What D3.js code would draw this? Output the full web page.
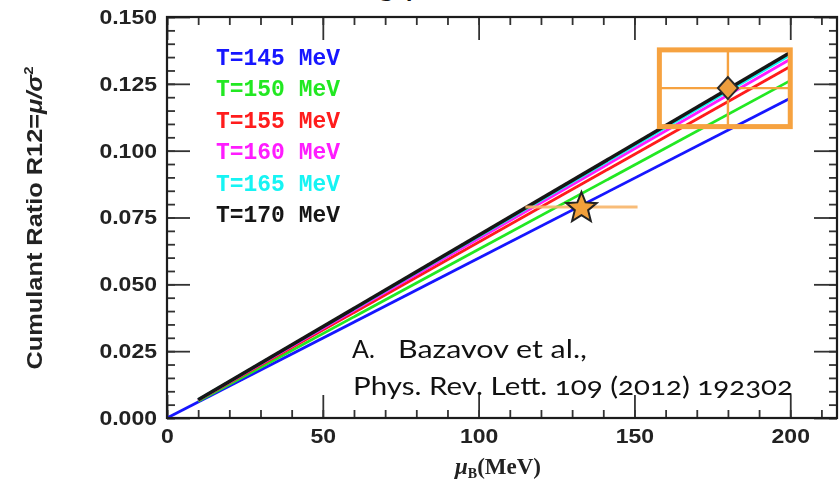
<!DOCTYPE html>
<html><head><meta charset="utf-8">
<script src="https://cdn.jsdelivr.net/npm/d3@7"></script>
<style>
html,body{margin:0;padding:0;background:#fff;}
svg{display:block;}
</style></head><body>
<svg id="chart" width="840" height="484"></svg>
<script>
// Lattice QCD predictions for R12 = mu/sigma^2 versus baryon chemical potential
const temperatures = [145, 150, 155, 160, 165, 170];
const legendLabels = ["T=145 MeV", "T=150 MeV", "T=155 MeV", "T=160 MeV", "T=165 MeV", "T=170 MeV"];
const muStart = [0, 10, 10, 10, 10, 10];
const r12Start = [0.0000, 0.0063, 0.0066, 0.0067, 0.0068, 0.0068];
const muEnd = [200, 200, 200, 200, 200, 200];
const r12End = [0.1196, 0.1262, 0.1315, 0.1342, 0.1358, 0.1367];
const lineColors = ["#1414ff", "#22e822", "#ff1a1a", "#ff1aff", "#14f4f4", "#151515"];

// Measured point (star) with horizontal error bar
const starMu = 133, starR12 = 0.0789, starMuErr = 18;
// Extracted point (diamond) with its uncertainty box
const boxMu = 180, boxR12 = 0.1234;
const boxMuRange = [158, 200];
const boxR12Range = [0.1090, 0.1377];

// Axis ticks
const xMajorTicks = [0, 50, 100, 150, 200];
const xTickLabels = ["0", "50", "100", "150", "200"];
const xMinorTicks = [0, 10, 20, 30, 40, 50, 60, 70, 80, 90, 100, 110, 120, 130, 140, 150, 160, 170, 180, 190, 200, 210];
const yMajorTicks = [0, 0.025, 0.05, 0.075, 0.1, 0.125, 0.15];
const yTickLabels = ["0.000", "0.025", "0.050", "0.075", "0.100", "0.125", "0.150"];
const yMinorTicks = d3.range(0, 0.1501, 0.005);

const svg = d3.select("#chart");
const plot = {left: 167, right: 837, top: 17, bottom: 418};
const x = d3.scaleLinear().domain([0, 215]).range([plot.left, plot.right]);
const y = d3.scaleLinear().domain([0, 0.15]).range([plot.bottom, plot.top]);

const defs = svg.append("defs");
defs.append("filter").attr("id", "soft").attr("x", "-5%").attr("y", "-5%").attr("width", "110%").attr("height", "110%")
  .append("feGaussianBlur").attr("stdDeviation", 0.55);

// Fragment of the slide title above the plot
const titleFont = "Lato, 'Open Sans', sans-serif";
svg.append("text")
  .attr("x", 377).attr("y", -5)
  .attr("font-family", titleFont)
  .attr("font-size", 36).attr("fill", "#111")
  .text("g");
svg.append("text")
  .attr("x", 405).attr("y", -5)
  .attr("font-family", titleFont)
  .attr("font-size", 36).attr("fill", "#111")
  .text("p");

const g = svg.append("g").attr("filter", "url(#soft)");

const tickColor = "#333";
function styleAxis(sel) {
  sel.select(".domain").remove();
  sel.selectAll(".tick line").attr("stroke", tickColor).attr("stroke-width", 1.8);
  sel.selectAll(".tick text")
    .attr("font-family", "'Liberation Sans', Arial, sans-serif")
    .attr("font-weight", "bold").attr("font-size", 20).attr("fill", "#222");
}

// Minor ticks on all four sides
g.append("g").attr("transform", `translate(0,${plot.bottom})`)
  .call(d3.axisBottom(x).tickValues(xMinorTicks).tickSize(-8).tickFormat("")).call(styleAxis);
g.append("g").attr("transform", `translate(0,${plot.top})`)
  .call(d3.axisTop(x).tickValues(xMinorTicks).tickSize(-8).tickFormat("")).call(styleAxis);
g.append("g").attr("transform", `translate(${plot.left},0)`)
  .call(d3.axisLeft(y).tickValues(yMinorTicks).tickSize(-8).tickFormat("")).call(styleAxis);
g.append("g").attr("transform", `translate(${plot.right},0)`)
  .call(d3.axisRight(y).tickValues(yMinorTicks).tickSize(-8).tickFormat("")).call(styleAxis);

// Major ticks
const xAxisG = g.append("g").attr("transform", `translate(0,${plot.bottom})`)
  .call(d3.axisBottom(x).tickValues(xMajorTicks).tickSize(-23).tickPadding(11)
    .tickFormat((d, i) => xTickLabels[i])).call(styleAxis);
g.append("g").attr("transform", `translate(0,${plot.top})`)
  .call(d3.axisTop(x).tickValues(xMajorTicks).tickSize(-23).tickFormat("")).call(styleAxis);
const yAxisG = g.append("g").attr("transform", `translate(${plot.left},0)`)
  .call(d3.axisLeft(y).tickValues(yMajorTicks).tickSize(-23).tickPadding(10)
    .tickFormat((d, i) => yTickLabels[i])).call(styleAxis);
g.append("g").attr("transform", `translate(${plot.right},0)`)
  .call(d3.axisRight(y).tickValues(yMajorTicks).tickSize(-23).tickFormat("")).call(styleAxis);

// Wide-set tick numerals
[xAxisG, yAxisG].forEach(ax => ax.selectAll(".tick text").each(function () {
  const w = this.getComputedTextLength();
  d3.select(this).attr("textLength", w * 1.15).attr("lengthAdjust", "spacingAndGlyphs");
}));

// Series lines
const lineGen = d3.line().x(d => x(d[0])).y(d => y(d[1]));
temperatures.forEach((t, i) => {
  const pts = [[muStart[i], r12Start[i]], [muEnd[i], r12End[i]]];
  g.append("path").datum(pts)
    .attr("d", lineGen)
    .attr("fill", "none")
    .attr("stroke", lineColors[i])
    .attr("stroke-width", i === temperatures.length - 1 ? 3.6 : 2.8);
});

// Frame
g.append("rect")
  .attr("x", plot.left).attr("y", plot.top)
  .attr("width", plot.right - plot.left).attr("height", plot.bottom - plot.top)
  .attr("fill", "none").attr("stroke", "#1a1a1a").attr("stroke-width", 2.2);

// Legend
legendLabels.forEach((lab, i) => {
  g.append("text")
    .attr("x", 216).attr("y", 65 + i * 31.4)
    .attr("font-family", "'Liberation Mono', 'Courier New', monospace")
    .attr("font-weight", "bold").attr("font-size", 23)
    .attr("fill", lineColors[i])
    .attr("textLength", 124).attr("lengthAdjust", "spacingAndGlyphs")
    .text(lab);
});

// Axis titles
const yTitle = g.append("text")
  .attr("transform", "translate(42,218) rotate(-90)")
  .attr("text-anchor", "middle")
  .attr("font-family", "'Liberation Sans', Arial, sans-serif")
  .attr("font-weight", "bold").attr("font-size", 22).attr("fill", "#222")
  .attr("textLength", 303).attr("lengthAdjust", "spacingAndGlyphs");
yTitle.append("tspan").text("Cumulant Ratio R12=");
yTitle.append("tspan").attr("font-style", "italic").text("μ/σ");
yTitle.append("tspan").attr("font-size", 13).attr("dy", -9).text("2");

const xTitle = g.append("text")
  .attr("x", 498).attr("y", 474)
  .attr("text-anchor", "middle")
  .attr("font-family", "'Liberation Serif', 'Times New Roman', serif")
  .attr("font-weight", "bold").attr("font-size", 23).attr("fill", "#222");
xTitle.append("tspan").attr("font-style", "italic").text("μ");
xTitle.append("tspan").attr("font-size", 14).attr("dy", 4).text("B");
xTitle.append("tspan").attr("dy", -4).text("(MeV)");

// Uncertainty box around the diamond
const orange = "#F6A23F";
const bx0 = x(boxMuRange[0]), bx1 = x(boxMuRange[1]);
const by0 = y(boxR12Range[1]), by1 = y(boxR12Range[0]);
g.append("line").attr("x1", x(boxMu)).attr("x2", x(boxMu)).attr("y1", by0).attr("y2", by1)
  .attr("stroke", orange).attr("stroke-width", 2.4);
g.append("line").attr("x1", bx0).attr("x2", bx1).attr("y1", y(boxR12)).attr("y2", y(boxR12))
  .attr("stroke", orange).attr("stroke-width", 2.4);
g.append("rect").attr("x", bx0).attr("y", by0).attr("width", bx1 - bx0).attr("height", by1 - by0)
  .attr("fill", "none").attr("stroke", orange).attr("stroke-width", 5);
g.append("path")
  .attr("transform", `translate(${x(boxMu)},${y(boxR12)})`)
  .attr("d", "M0,-11L10,0L0,11L-10,0Z")
  .attr("fill", "#EE9E3C").attr("stroke", "#2a2a2a").attr("stroke-width", 2);

// Star with horizontal error bar
g.append("line")
  .attr("x1", x(starMu - starMuErr)).attr("x2", x(starMu + starMuErr))
  .attr("y1", y(starR12)).attr("y2", y(starR12))
  .attr("stroke", "#F7B56A").attr("stroke-width", 3).attr("stroke-opacity", 0.9);
function starPath(rOuter, rInner) {
  const pts = [];
  for (let k = 0; k < 10; k++) {
    const r = k % 2 === 0 ? rOuter : rInner;
    const a = -Math.PI / 2 + k * Math.PI / 5;
    pts.push([r * Math.cos(a), r * Math.sin(a)]);
  }
  return "M" + pts.map(p => p[0].toFixed(2) + "," + p[1].toFixed(2)).join("L") + "Z";
}
g.append("path")
  .attr("transform", `translate(${x(starMu)},${y(starR12) + 1})`)
  .attr("d", starPath(16, 7))
  .attr("fill", "#F2A03A").attr("stroke", "#222").attr("stroke-width", 2);

// Reference annotation
const noteFont = "Lato, 'Open Sans', sans-serif";
svg.append("text").attr("x", 352).attr("y", 358)
  .attr("font-family", noteFont).attr("font-size", 25).attr("fill", "#111").text("A.");
svg.append("text").attr("x", 398).attr("y", 358)
  .attr("font-family", noteFont).attr("font-size", 25).attr("fill", "#111")
  .attr("textLength", 189).attr("lengthAdjust", "spacingAndGlyphs")
  .text("Bazavov et al.,");
svg.append("text").attr("x", 353).attr("y", 395)
  .attr("font-family", noteFont).attr("font-size", 25).attr("fill", "#111")
  .style("font-variant-numeric", "oldstyle-nums")
  .attr("textLength", 440).attr("lengthAdjust", "spacingAndGlyphs")
  .text("Phys. Rev. Lett. 109 (2012) 192302");
</script>
</body></html>
